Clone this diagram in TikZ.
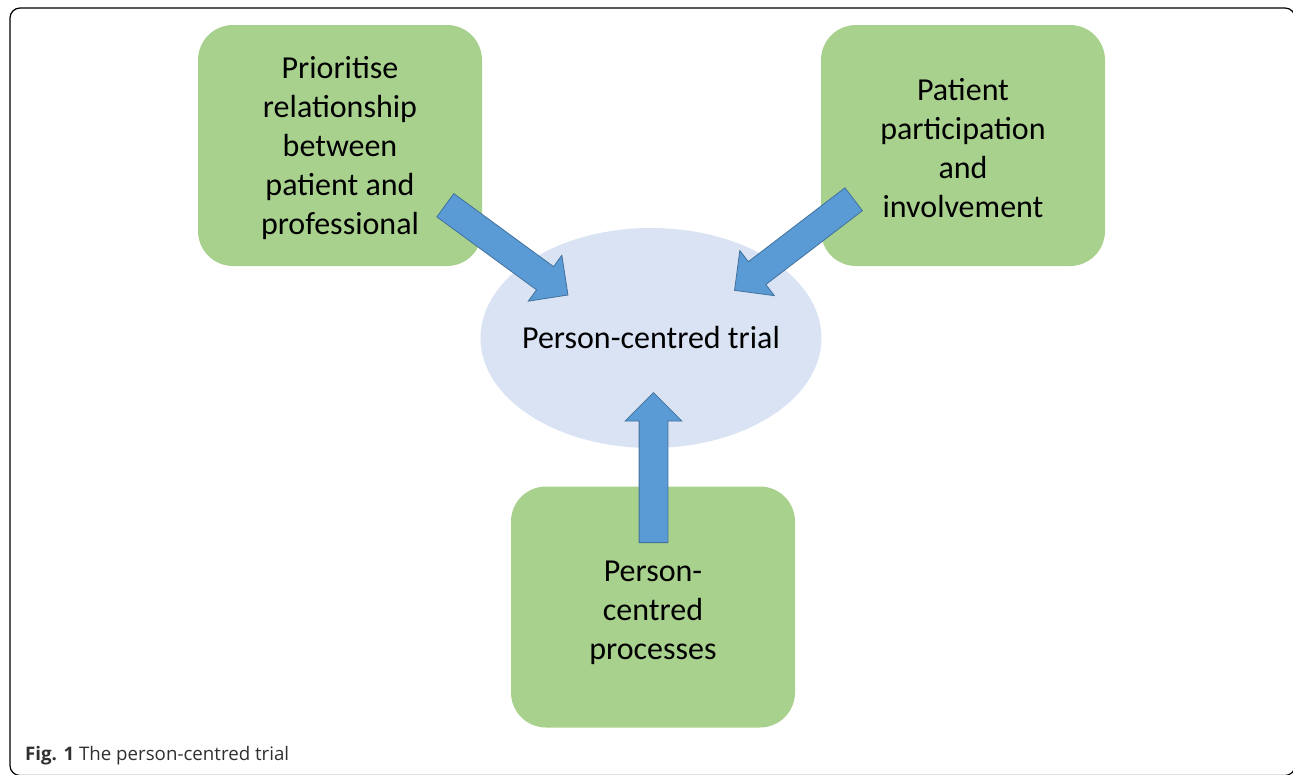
\documentclass[tikz,border=0pt]{standalone}
\usepackage{fontspec}
\setmainfont{Carlito}
\newfontfamily\captionfont{Open Sans}
\usetikzlibrary{shapes.geometric,shapes.arrows}
\definecolor{boxgreen}{HTML}{A9D18E}
\definecolor{hubblue}{HTML}{DAE3F3}
\definecolor{arrowfill}{HTML}{5B9BD5}
\definecolor{arrowline}{HTML}{41719C}
\definecolor{captiongray}{HTML}{303030}

\begin{document}
\begin{tikzpicture}[
  x=1pt, y=-1pt,
  box/.style = {fill=boxgreen, rounded corners=35pt, minimum width=284pt, minimum height=241pt},
  boxtext/.style = {align=center, font=\fontsize{32}{39}\selectfont},
  hub/.style = {ellipse, fill=hubblue, inner sep=0pt, minimum width=341pt, minimum height=220pt, label={center:\fontsize{32}{39}\selectfont #1}},
  bigarrow/.style = {single arrow, draw=arrowline, fill=arrowfill, line width=0.8pt, inner xsep=0pt, inner ysep=14pt, single arrow head extend=14pt, minimum height=#1, anchor=tail}
]
  \useasboundingbox (0,0) rectangle (1293,774);
  \draw[line width=1.2pt, rounded corners=10pt] (10,8) rectangle (1295,775.5);

  \node[box] (relation) at (340,145.5) {};
  \node[box] (participation) at (963,145.5) {};
  \node[box] (processes) at (653,607) {};
  \node[boxtext] (relation text) at (340,148.5) {Prioritise\\relationship\\between\\patient and\\professional};
  \node[boxtext] (participation text) at (963,148) {Patient\\participation\\and\\involvement};
  \node[boxtext] (processes text) at (653,613) {Person-\\centred\\processes};
  \node[hub={Person-centred trial}] (trial) at (651,338) {};

  \coordinate (tail1) at (445,205);
  \coordinate (tail2) at (854,199);
  \coordinate (tail3) at (653.5,543);
  \node[bigarrow=152pt, rotate=-36.2] (arrow1) at (tail1) {};
  \node[bigarrow=150pt, rotate=-142.6] (arrow2) at (tail2) {};
  \node[bigarrow=150pt, rotate=90] (arrow3) at (tail3) {};

  \node[anchor=base west, font=\captionfont\fontsize{18.7}{22}\selectfont, text=captiongray, inner sep=0pt] (caption) at (25,760) {\textbf{Fig. 1} The person-centred trial};
\end{tikzpicture}
\end{document}
